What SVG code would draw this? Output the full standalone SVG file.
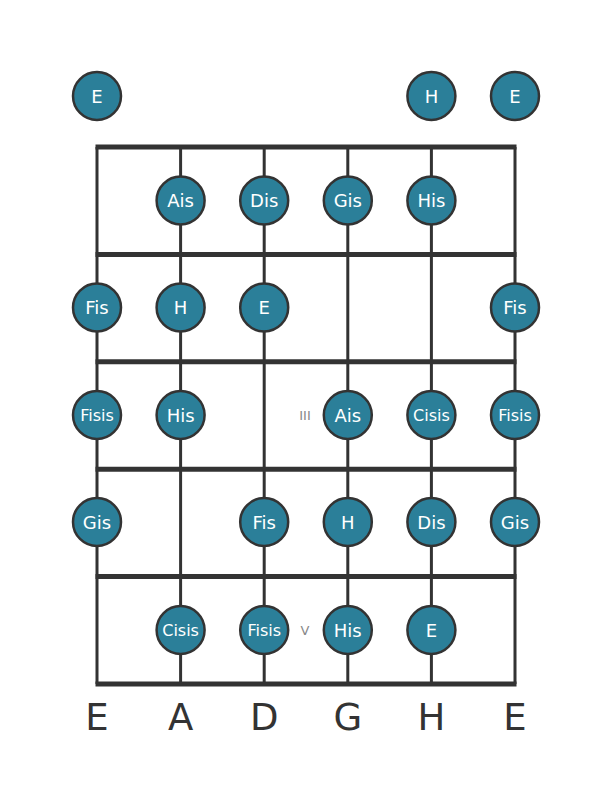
<svg xmlns="http://www.w3.org/2000/svg" width="611" height="801" viewBox="0 0 611 801">
<style>
.fret{stroke:#333;stroke-width:5;fill:none}
.str{stroke:#333;stroke-width:3;fill:none}
.n circle{fill:#2b7f99;stroke:#333;stroke-width:2.5}
.n text{fill:#fff;font-family:"DejaVu Sans",sans-serif;font-size:18px;text-anchor:middle;dominant-baseline:central}
.n text.s{font-size:16px}
.lbl{fill:#333;font-family:"DejaVu Sans",sans-serif;font-size:37px;text-anchor:middle}
.pos{fill:#888;font-family:"DejaVu Sans",sans-serif;font-size:13px;text-anchor:middle;dominant-baseline:central}
</style>
<rect width="611" height="801" fill="#fff"/>
<g id="board">
<line class="str" x1="97" y1="147" x2="97" y2="684"/>
<line class="str" x1="180.6" y1="147" x2="180.6" y2="684"/>
<line class="str" x1="264.2" y1="147" x2="264.2" y2="684"/>
<line class="str" x1="347.8" y1="147" x2="347.8" y2="684"/>
<line class="str" x1="431.4" y1="147" x2="431.4" y2="684"/>
<line class="str" x1="515" y1="147" x2="515" y2="684"/>
<line class="fret" x1="95.5" y1="147" x2="516.5" y2="147"/>
<line class="fret" x1="95.5" y1="254.4" x2="516.5" y2="254.4"/>
<line class="fret" x1="95.5" y1="361.8" x2="516.5" y2="361.8"/>
<line class="fret" x1="95.5" y1="469.2" x2="516.5" y2="469.2"/>
<line class="fret" x1="95.5" y1="576.6" x2="516.5" y2="576.6"/>
<line class="fret" x1="95.5" y1="684" x2="516.5" y2="684"/>
</g>
<g id="open-E1" class="n"><circle cx="97" cy="96" r="24"/><text x="97" y="96">E</text></g>
<g id="open-H" class="n"><circle cx="431.4" cy="96" r="24"/><text x="431.4" y="96">H</text></g>
<g id="open-E6" class="n"><circle cx="515" cy="96" r="24"/><text x="515" y="96">E</text></g>

<g id="f1-Ais" class="n"><circle cx="180.6" cy="200.5" r="24"/><text x="180.6" y="200.5">Ais</text></g>
<g id="f1-Dis" class="n"><circle cx="264.2" cy="200.5" r="24"/><text x="264.2" y="200.5">Dis</text></g>
<g id="f1-Gis" class="n"><circle cx="347.8" cy="200.5" r="24"/><text x="347.8" y="200.5">Gis</text></g>
<g id="f1-His" class="n"><circle cx="431.4" cy="200.5" r="24"/><text x="431.4" y="200.5">His</text></g>

<g id="f2-Fis1" class="n"><circle cx="97" cy="307.5" r="24"/><text x="97" y="307.5">Fis</text></g>
<g id="f2-H" class="n"><circle cx="180.6" cy="307.5" r="24"/><text x="180.6" y="307.5">H</text></g>
<g id="f2-E" class="n"><circle cx="264.2" cy="307.5" r="24"/><text x="264.2" y="307.5">E</text></g>
<g id="f2-Fis6" class="n"><circle cx="515" cy="307.5" r="24"/><text x="515" y="307.5">Fis</text></g>

<g id="f3-Fisis1" class="n"><circle cx="97" cy="415" r="24"/><text class="s" x="97" y="415">Fisis</text></g>
<g id="f3-His" class="n"><circle cx="180.6" cy="415" r="24"/><text x="180.6" y="415">His</text></g>
<g id="f3-Ais" class="n"><circle cx="347.8" cy="415" r="24"/><text x="347.8" y="415">Ais</text></g>
<g id="f3-Cisis" class="n"><circle cx="431.4" cy="415" r="24"/><text class="s" x="431.4" y="415">Cisis</text></g>
<g id="f3-Fisis6" class="n"><circle cx="515" cy="415" r="24"/><text class="s" x="515" y="415">Fisis</text></g>

<g id="f4-Gis1" class="n"><circle cx="97" cy="522" r="24"/><text x="97" y="522">Gis</text></g>
<g id="f4-Fis" class="n"><circle cx="264.2" cy="522" r="24"/><text x="264.2" y="522">Fis</text></g>
<g id="f4-H" class="n"><circle cx="347.8" cy="522" r="24"/><text x="347.8" y="522">H</text></g>
<g id="f4-Dis" class="n"><circle cx="431.4" cy="522" r="24"/><text x="431.4" y="522">Dis</text></g>
<g id="f4-Gis6" class="n"><circle cx="515" cy="522" r="24"/><text x="515" y="522">Gis</text></g>

<g id="f5-Cisis" class="n"><circle cx="180.6" cy="630" r="24"/><text class="s" x="180.6" y="630">Cisis</text></g>
<g id="f5-Fisis" class="n"><circle cx="264.2" cy="630" r="24"/><text class="s" x="264.2" y="630">Fisis</text></g>
<g id="f5-His" class="n"><circle cx="347.8" cy="630" r="24"/><text x="347.8" y="630">His</text></g>
<g id="f5-E" class="n"><circle cx="431.4" cy="630" r="24"/><text x="431.4" y="630">E</text></g>

<g id="positions">
<text class="pos" x="305" y="415">III</text>
<text class="pos" x="305" y="630">V</text>
</g>
<g id="strings-labels">
<text class="lbl" x="97" y="730">E</text>
<text class="lbl" x="180.6" y="730">A</text>
<text class="lbl" x="264.2" y="730">D</text>
<text class="lbl" x="347.8" y="730">G</text>
<text class="lbl" x="431.4" y="730">H</text>
<text class="lbl" x="515" y="730">E</text>
</g>
</svg>
